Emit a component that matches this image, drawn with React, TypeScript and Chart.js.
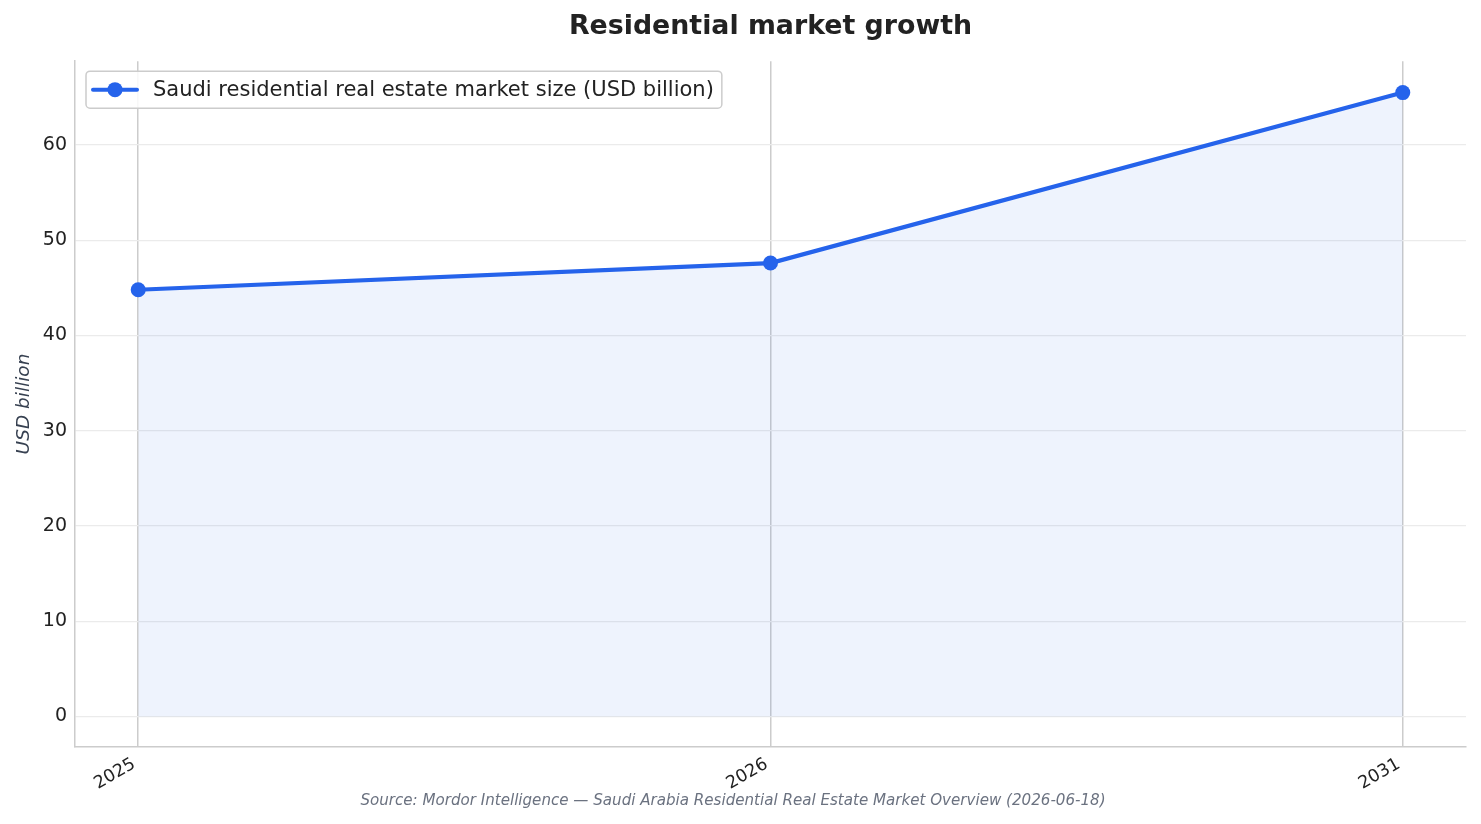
import { useEffect, useRef } from "react"
import { Chart, registerables } from "chart.js"

Chart.register(...registerables)

const years = ["2025", "2026", "2031"]
const marketSize = [44.8, 47.6, 65.5]
const seriesLabel = "Saudi residential real estate market size (USD billion)"
const chartTitle = "Residential market growth"
const sourceNote = "Source: Mordor Intelligence — Saudi Arabia Residential Real Estate Market Overview (2026-06-18)"

const LINE = "#2563eb"
const FONT = "'DejaVu Sans', sans-serif"

// legend drawn inside the plot, top-left, like the original
const insideLegend = {
  id: "insideLegend",
  afterDatasetsDraw(chart: Chart) {
    const { ctx, chartArea } = chart
    const label = chart.data.datasets[0].label || ""
    ctx.save()
    ctx.font = `21px ${FONT}`
    const textW = ctx.measureText(label).width
    const x = chartArea.left + 11
    const y = chartArea.top + 10
    const h = 37
    const w = 67 + textW + 8
    ctx.beginPath()
    ctx.roundRect(x, y, w, h, 4)
    ctx.fillStyle = "rgba(255,255,255,0.85)"
    ctx.fill()
    ctx.strokeStyle = "#cccccc"
    ctx.lineWidth = 1.5
    ctx.stroke()
    const cy = y + h / 2
    ctx.beginPath()
    ctx.moveTo(x + 7, cy)
    ctx.lineTo(x + 51, cy)
    ctx.strokeStyle = LINE
    ctx.lineWidth = 4
    ctx.lineCap = "round"
    ctx.stroke()
    ctx.beginPath()
    ctx.arc(x + 29, cy, 7.5, 0, Math.PI * 2)
    ctx.fillStyle = LINE
    ctx.fill()
    ctx.fillStyle = "#222222"
    ctx.textBaseline = "middle"
    ctx.fillText(label, x + 67, cy + 1)
    ctx.restore()
  },
}

export default function App() {
  const chartRef = useRef<HTMLCanvasElement>(null)
  const chartInstance = useRef<Chart | null>(null)

  useEffect(() => {
    document.body.style.margin = "0"
    if (!chartRef.current) return
    if (chartInstance.current) chartInstance.current.destroy()
    const ctx = chartRef.current.getContext("2d")
    if (!ctx) return

    chartInstance.current = new Chart(ctx, {
      type: "line",
      data: {
        datasets: [
          {
            label: seriesLabel,
            data: marketSize.map((v, i) => ({ x: i, y: v })),
            borderColor: LINE,
            backgroundColor: "rgba(37, 99, 235, 0.08)",
            borderWidth: 4.2,
            pointRadius: 7.5,
            pointBackgroundColor: LINE,
            pointBorderWidth: 0,
            fill: "origin",
            tension: 0,
          },
        ],
      },
      options: {
        animation: false,
        responsive: true,
        maintainAspectRatio: false,
        layout: { padding: { top: 0, right: 15, bottom: 0, left: 0 } },
        plugins: {
          legend: { display: false },
          tooltip: { enabled: false },
          title: {
            display: true,
            fullSize: false,
            text: chartTitle,
            color: "#222222",
            font: { family: FONT, size: 26.8, weight: "bold" },
            padding: { top: 11, bottom: 18 },
          },
          subtitle: {
            display: true,
            position: "bottom",
            text: sourceNote,
            color: "#6b7280",
            font: { family: FONT, size: 15.1, style: "italic" },
            padding: { top: 0, bottom: 14 },
          },
        },
        scales: {
          x: {
            type: "linear",
            min: -0.1,
            max: 2.1,
            afterFit: (scale: any) => {
              scale.height = 45
            },
            ticks: {
              stepSize: 1,
              includeBounds: false,
              maxRotation: 30,
              minRotation: 30,
              padding: 7,
              labelOffset: -4,
              color: "#222222",
              font: { family: FONT, size: 17.5 },
              callback: (v: any) => years[v] ?? "",
            },
            grid: { color: "#cccccc", lineWidth: 1.5, drawTicks: false },
            border: { color: "#cccccc", width: 1.5 },
          },
          y: {
            min: -3.2,
            max: 68.8,
            afterFit: (scale: any) => {
              scale.width = 75
            },
            ticks: {
              stepSize: 10,
              includeBounds: false,
              padding: 8,
              color: "#222222",
              font: { family: FONT, size: 19 },
            },
            grid: { color: "#ebebeb", lineWidth: 1.2, drawTicks: false },
            border: { color: "#cccccc", width: 1.5 },
            title: {
              display: true,
              text: "USD billion",
              color: "#374151",
              font: { family: FONT, size: 18.5, style: "italic" },
              padding: { top: 13, bottom: 0 },
            },
          },
        },
      },
      plugins: [insideLegend],
    })

    return () => {
      if (chartInstance.current) chartInstance.current.destroy()
    }
  }, [])

  return (
    <div style={{ width: 1481, height: 824, position: "relative", background: "#ffffff" }}>
      <canvas ref={chartRef} />
    </div>
  )
}
